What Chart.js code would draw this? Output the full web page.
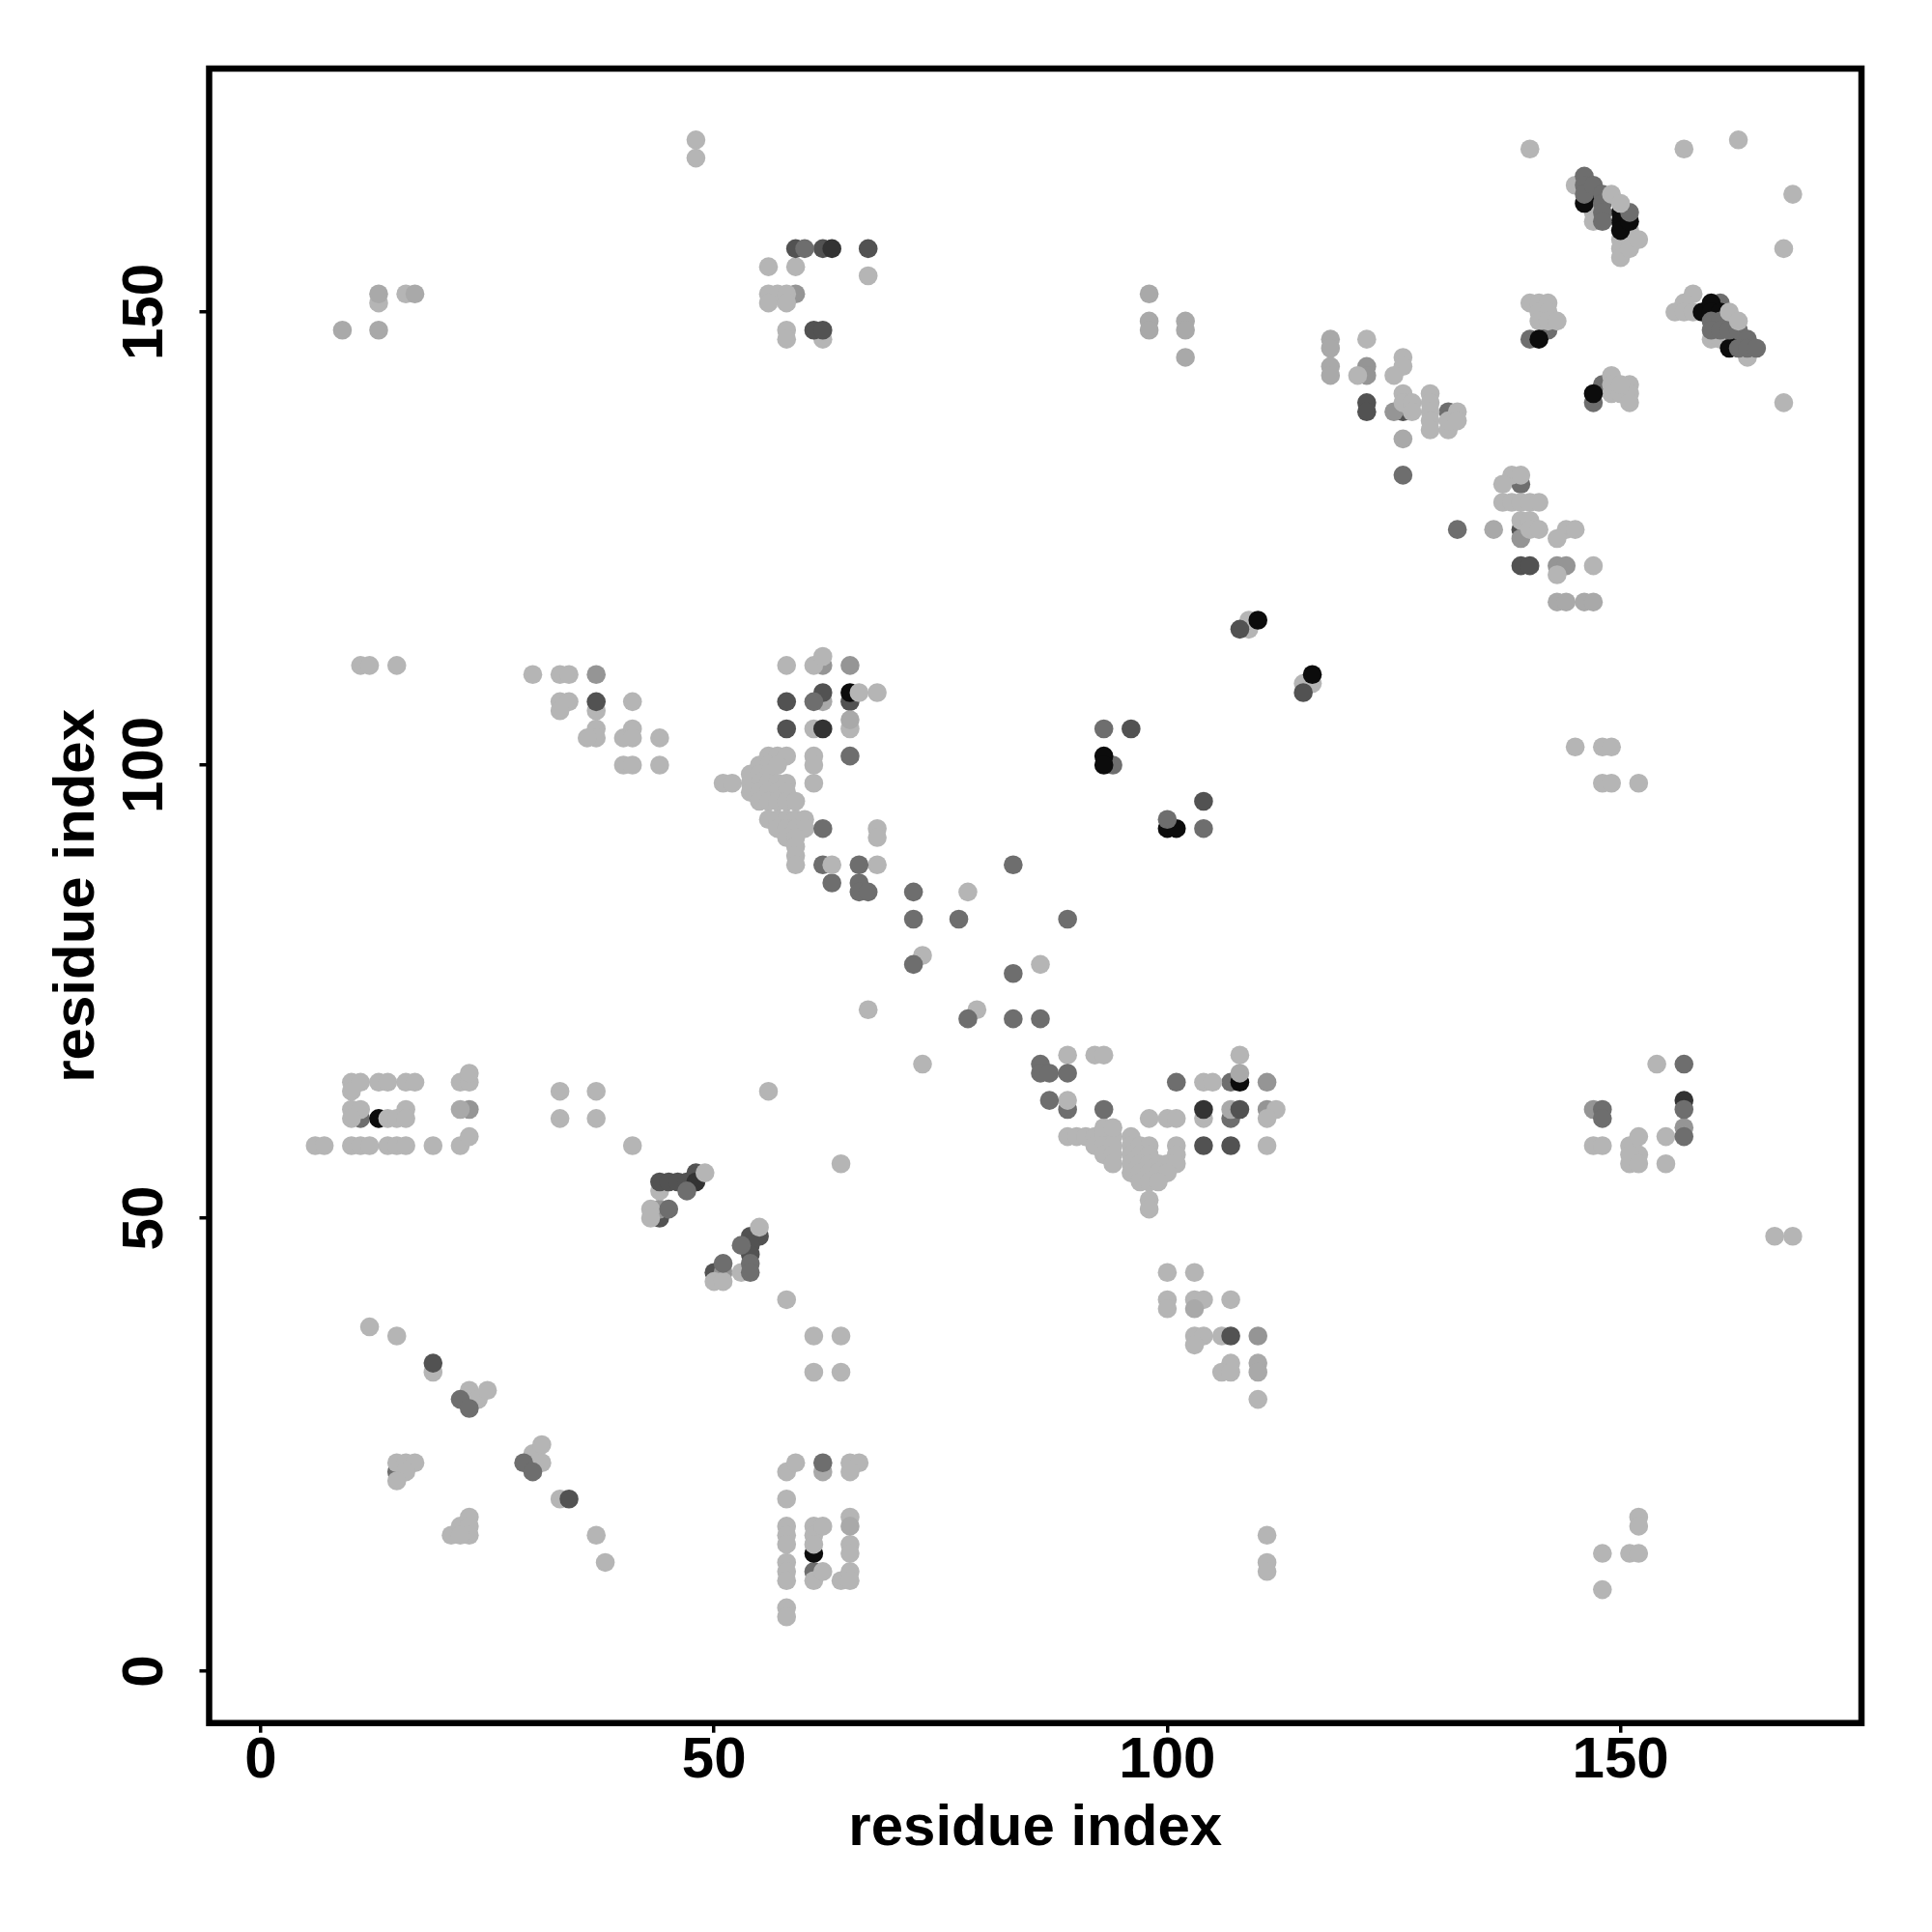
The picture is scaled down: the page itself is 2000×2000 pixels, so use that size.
<!DOCTYPE html>
<html>
<head>
<meta charset="utf-8">
<script src="https://cdn.jsdelivr.net/npm/chart.js@4"></script>
<style>
  body { margin: 0; background: #fff; }
</style>
</head>
<body>
<canvas id="contactMap" width="2000" height="2000"></canvas>
<script>
// contacts, one pair of lists per grey level
// darker points hidden under lighter ones go first
const grayUnderX = [142,140,147,148,139,131,89,11,61,107,107,94,161,15];
const grayUnderY = [148,147,140,142,131,139,62,61,11,61,65,100,151,22];

const darkUnderX = [126,139,65,50,44];
const darkUnderY = [139,126,107,44,50];

const blackUnderX = [65,108,61,13];
const blackUnderY = [108,65,13,61];

const midX = [59,122,122,125,139,143,144,62,65,37,111,111,23,44,51,110,157,147];
const midY = [152,144,143,139,125,122,122,111,111,110,65,62,62,51,44,37,60,62];

const lightX = [
  48,48,140,157,163,169,168,168,
  13,16,
  56,59,67,56,57,58,56,58,58,58,62,
  122,121,126,126,125,126,126,127,127,129,129,129,129,129,131,131,132,132,
  140,141,142,141,142,141,142,143,
  149,149,149,150,151,151,151,150,
  138,139,137,137,138,139,140,141,139,140,140,141,144,145,143,143,147,
  145,147,147,147,150,150,150,151,151,151,152,
  158,157,156,157,158,160,161,162,164,
  145,148,149,148,149,152,
  109,109,115,116,
  78,73,86,79,67,73,
  58,61,62,66,68,61,65,56,57,58,61,61,55,56,57,54,55,56,
  51,52,54,55,56,57,58,61,54,55,56,57,58,55,56,57,58,59,
  56,57,58,59,60,57,58,59,60,58,59,59,59,59,68,68,68,
  11,12,15,30,33,34,33,34,33,37,41,37,37,36,40,41,41,44,40,41,44,
  10,11,13,14,16,17,10,22,23,23,10,11,16,10,14,15,16,
  6,7,10,11,12,14,15,16,19,22,23,
  33,37,33,37,41,56,64,
  89,92,93,108,89,104,105,98,100,101,104,112,111,101,111,
  89,90,91,92,93,94,96,93,94,92,93,94,96,97,98,
  93,94,96,97,98,101,94,96,97,98,99,100,101,
  96,97,98,99,100,97,98,99,98,98,
  103,100,100,100,103,104,107,103,104,106,103,107,106,107,110,
  61,64,61,64,12,15,19,23,24,25,15,16,17,16,15,
  30,31,31,33,37,38,21,22,23,23,23,22,
  58,59,65,66,65,58,58,58,58,58,58,58,58,58,
  61,61,61,61,62,62,64,65,65,65,65,65,
  111,111,111,148,151,152,152,152,148,167,169,
  147,148,151,152,152,151,151,152,155,155,154,
  43,43,44,50,51,53,58
];
const lightY = [
  169,167,168,168,169,163,157,140,
  151,152,
  155,155,154,152,152,152,151,151,148,147,147,
  147,143,145,144,143,141,140,140,139,141,140,139,138,137,137,138,139,138,
  151,151,151,150,150,149,149,149,
  143,142,141,141,142,141,140,142,
  132,132,131,129,129,129,129,129,127,127,126,126,126,126,125,121,122,
  164,162,161,160,158,157,156,159,158,157,158,
  152,151,150,150,150,147,147,147,145,
  102,102,102,98,98,98,
  116,115,109,109,
  86,79,78,73,73,67,
  111,111,112,108,108,104,104,101,101,101,101,100,100,100,100,99,99,99,
  98,98,98,98,98,98,98,98,97,97,97,97,97,96,96,96,96,96,
  94,94,94,94,94,93,93,93,93,92,92,91,90,89,93,92,89,
  111,111,111,110,110,110,107,107,106,106,107,104,103,103,103,104,103,103,100,100,100,
  65,65,65,65,65,65,64,65,65,66,62,62,62,61,61,61,61,
  58,58,58,58,58,58,58,58,58,58,59,
  64,64,61,61,58,64,56,
  68,68,68,68,63,65,65,61,61,61,61,62,61,58,58,
  59,59,59,59,59,59,59,60,60,58,58,58,58,58,58,
  57,57,57,57,57,57,56,56,56,56,56,56,56,
  55,55,55,55,55,54,54,54,52,51,
  44,44,41,40,41,41,41,37,37,37,36,34,33,33,30,
  37,37,33,33,38,37,33,31,30,31,23,23,23,22,21,
  24,25,23,19,15,12,15,16,17,16,15,15,
  22,23,23,23,22,19,16,15,14,12,11,10,7,6,
  16,15,14,10,16,11,10,17,14,13,11,10,
  15,12,11,13,13,13,17,16,9,48,48,
  58,58,58,59,57,57,56,56,56,59,67,
  51,50,53,43,43,44,41
];

const paleX = [9,13,13,17,98,98,98,102,102,102,118,118,118,118,126,136,143,144,146,147,62,65,107,108,22,62,65,110,110,103];
const paleY = [148,152,148,152,152,149,148,149,148,145,147,146,144,143,136,126,118,118,118,118,107,105,62,66,62,22,16,34,33,40];

const blackX = [146,147,150,150,150,151,159,160,160,161,163,162,141,147,110,116,93,93,100,101];
const blackY = [162,163,161,160,159,160,150,151,150,150,147,146,147,141,116,110,101,100,93,93];

const darkX = [59,62,67,61,62,122,122,139,140,96,104,104,107,108,19,34,37,58,58,62,44,45,46,47,48,54,55,54,54,107,115,108];
const darkY = [157,157,157,148,148,140,139,122,122,104,96,58,58,62,34,19,107,107,104,108,54,54,54,54,55,48,48,47,46,37,108,115];

const charcoalX = [157,62,104,63,48];
const charcoalY = [63,104,62,157,54];

const grayX = [
  60,126,132,72,72,72,77,83,83,83,86,78,89,62,65,62,66,63,66,66,67,61,93,100,104,
  86,86,87,89,87,93,101,22,23,29,30,47,45,53,54,54,51,148,148,157,157,157,62,
  146,146,146,147,148,148,148,148,151,
  160,161,162,160,161,162,163,164,163,164,165
];
const grayY = [
  157,132,126,86,83,78,83,89,77,72,72,72,83,93,101,89,89,87,87,86,86,107,104,94,93,
  67,66,66,66,63,62,65,30,29,23,22,53,51,47,45,44,45,62,61,67,62,59,23,
  165,164,163,164,163,162,161,160,161,
  149,149,149,148,148,148,148,147,146,146,146
];

const lightTopX = [162,163,149,150,63,49,55];
const lightTopY = [150,149,163,162,89,55,49];

const tickValues = [0, 50, 100, 150];
const axisLabel = "residue index";

const layers = [
  [grayUnderX, grayUnderY, "#6e6e6e"],
  [darkUnderX, darkUnderY, "#525252"],
  [blackUnderX, blackUnderY, "#0c0c0c"],
  [midX, midY, "#959595"],
  [lightX, lightY, "#b5b5b5"],
  [paleX, paleY, "#a9a9a9"],
  [blackX, blackY, "#0c0c0c"],
  [darkX, darkY, "#525252"],
  [charcoalX, charcoalY, "#333333"],
  [grayX, grayY, "#6e6e6e"],
  [lightTopX, lightTopY, "#b5b5b5"],
];

// first dataset is painted last in Chart.js, so order counts down
const datasets = layers.map(([xs, ys, color], i) => ({
  data: xs.map((x, k) => ({ x: x, y: ys[k] })),
  backgroundColor: color,
  pointRadius: 9.8,
  pointBorderWidth: 0,
  order: layers.length - i,
}));

const fontBold = { family: "'Liberation Sans'", size: 60, weight: "bold" };

const setTicks = (scale) => {
  scale.ticks = tickValues.map((v) => ({ value: v }));
};

// black box around the plot area
const plotBox = {
  id: "plotBox",
  afterDraw(chart) {
    const { left, top, width, height } = chart.chartArea;
    const ctx = chart.ctx;
    ctx.save();
    ctx.strokeStyle = "#000";
    ctx.lineWidth = 6.5;
    ctx.strokeRect(left, top, width, height);
    ctx.restore();
  },
};

new Chart(document.getElementById("contactMap"), {
  type: "scatter",
  data: { datasets: datasets },
  plugins: [plotBox],
  options: {
    responsive: false,
    animation: false,
    layout: { padding: { left: 0, top: 71, right: 73, bottom: 0 } },
    plugins: { legend: { display: false }, tooltip: { enabled: false } },
    scales: {
      x: {
        min: -5.7,
        max: 176.58,
        afterBuildTicks: setTicks,
        afterFit(scale) { scale.height = 216.3; },
        border: { display: false },
        grid: { drawOnChartArea: false, color: "#000", lineWidth: 3.5, tickLength: 10 },
        ticks: { color: "#000", font: fontBold, padding: -6, maxRotation: 0 },
        title: { display: true, text: axisLabel, color: "#000", font: fontBold, padding: { top: 0, bottom: 71 } },
      },
      y: {
        min: -5.725,
        max: 176.87,
        afterBuildTicks: setTicks,
        afterFit(scale) { scale.width = 216.5; },
        border: { display: false },
        grid: { drawOnChartArea: false, color: "#000", lineWidth: 3.5, tickLength: 10 },
        ticks: { color: "#000", font: fontBold, padding: 5, minRotation: 90, maxRotation: 90, crossAlign: "center" },
        title: { display: true, text: axisLabel, color: "#000", font: fontBold, padding: { top: 44, bottom: 0 } },
      },
    },
  },
});
</script>
</body>
</html>
